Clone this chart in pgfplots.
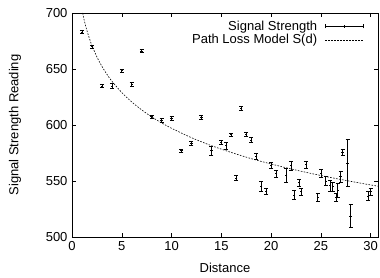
\documentclass[border=0pt]{standalone}
\usepackage{fontspec}
\setmainfont{Liberation Sans}
\usepackage{pgfplots}
\usepackage{pgfplotstable}
\pgfplotsset{compat=1.18}
\pgfplotstableread{
x y e
1 683 1.5
2 670 1.5
3 635 1.5
4 635 1.8
5 648.5 1.5
6 636 1.8
7 666 1.5
8 607.5 1.3
9 604 2
10 606 1.5
11 577 1.5
12 584 1.8
13 607 1.5
14 577 3.9
15 584.6 2
15.5 581.6 3
16 591.5 1.5
16.5 552.6 2.3
17 615 1.5
17.5 591.5 2
18 586.7 2
18.5 572 3
19 545 4.5
19.5 541 2.5
20 564 3
20.5 556.5 3
21.5 554.7 6.3
22 564 4
22.3 537.6 4
22.8 548.5 3
23 540.6 3
23.5 564.5 3
24.7 535.6 3.7
25.05 557 3.3
25.5 550 4
25.95 546 5
26.2 545 4
26.55 535.8 3.5
26.7 541.8 6
27 554 5
27.2 575.6 3
27.7 566 21
28 518.8 10.3
29.75 536.7 4
30 540.6 3
}\signal
\pgfplotstableread{
x y
1.07 700
1.2 694.6
1.4 687.5
1.6 681.4
1.8 676.0
2 671.1
2.5 660.8
3 652.5
3.5 645.4
4 639.2
5 629.0
6 620.6
7 613.5
8 607.3
9 601.9
10 597.1
12 588.7
14 581.6
16 575.5
18 570.0
20 565.2
22 560.8
24 556.8
26 553.1
28 549.7
30 546.5
30.75 545.4
}\model
\begin{document}
\fontsize{13bp}{15bp}\selectfont
\begin{tikzpicture}
\begin{axis}[
  scale only axis,
  width=306bp, height=224bp,
  xmin=0, xmax=30.75, ymin=500, ymax=700,
  xtick={0,5,...,30}, ytick={500,550,...,700},
  tick align=inside,
  major tick length=4bp,
  tick style={black, line width=0.5pt},
  axis line style={line width=0.6pt},
  /pgf/number format/assume math mode=true,
  ticklabel style={font=\fontsize{13bp}{15bp}\selectfont},
  xlabel={Distance},
  ylabel={Signal Strength Reading},
  label style={font=\fontsize{13bp}{15bp}\selectfont},
  xlabel style={at={(axis description cs:0.5,-0.138)}, anchor=center},
  ylabel style={at={(axis description cs:-0.186,0.5)}, anchor=center},
  legend plot pos=right,
  legend cell align=right,
  legend style={draw=none, fill=none, at={(axis description cs:0.954,0.975)}, anchor=north east,
    font=\fontsize{13bp}{15bp}\selectfont, inner sep=0pt, row sep=-2bp,
    /tikz/every odd column/.style={column sep=6bp}},
]
\addplot[black, only marks, mark=-, mark size=1.2bp, line width=0.6pt,
  legend image code/.code={%
    \draw[black, line width=0.6pt] (0bp,0bp)--(38bp,0bp)
      (0bp,-2bp)--(0bp,2bp) (38bp,-2bp)--(38bp,2bp) (19bp,-1.5bp)--(19bp,1.5bp);},
  error bars/.cd, y dir=both, y explicit,
  error bar style={line width=0.6pt, black},
  error mark options={line width=0.6pt, mark size=2bp, black, rotate=90},
  ]
  table[x=x, y=y, y error=e]{\signal};
\addlegendentry{Signal Strength}
\addplot[black, no marks, line width=0.6pt, dash pattern=on 1.6bp off 1.4bp, smooth,
  legend image code/.code={%
    \draw[black, line width=0.6pt, dash pattern=on 1.6bp off 1.4bp] (0bp,0bp)--(38bp,0bp);}]
  table[x=x, y=y]{\model};
\addlegendentry{Path Loss Model S(d)}
\end{axis}
\pgfresetboundingbox
\path[use as bounding box] ([shift={(-72bp,-41bp)}]current axis.south west) rectangle ([shift={(2bp,13bp)}]current axis.north east);
\end{tikzpicture}
\end{document}
